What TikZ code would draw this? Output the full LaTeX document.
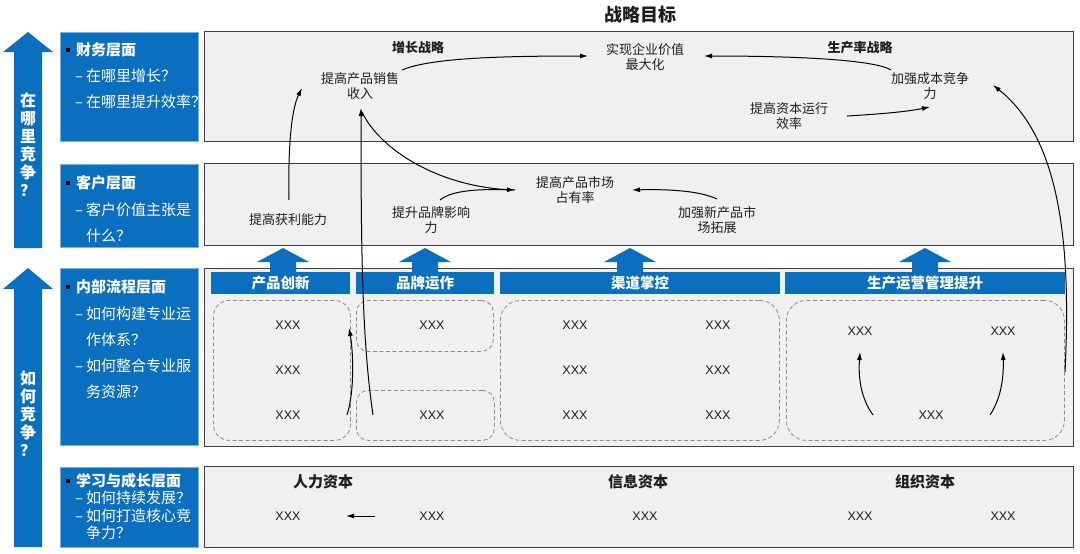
\documentclass[tikz,border=0pt]{standalone}
\usepackage{fontspec}
\newfontfamily\cjk{Noto Sans CJK SC}
\newfontfamily\lat{Liberation Sans}
\usetikzlibrary{arrows.meta}
\definecolor{bblue}{HTML}{0A6FBE}
\definecolor{pgrey}{HTML}{F0F0F0}
\definecolor{tblack}{HTML}{1E1E1E}
\begin{document}
\begin{tikzpicture}[x=1pt,y=-1pt,font=\cjk,
  lbox/.style={fill=bblue,draw=bblue!55!white,line width=0.6pt,anchor=north west,inner sep=0},
  gbox/.style={fill=pgrey,draw=black!75,line width=1pt,anchor=north west,inner sep=0},
  hbar/.style={fill=bblue,text=white,font=\cjk\bfseries\fontsize{14.5}{16}\selectfont,inner sep=0,minimum height=22pt,anchor=north west},
  dbox/.style={draw=black!45,dashed,dash pattern=on 4pt off 2.5pt,rounded corners=16pt,line width=0.8pt,anchor=north west,inner sep=0},
  txt/.style={font=\cjk\fontsize{13}{15.5}\selectfont,align=center,text=tblack,inner sep=0},
  btxt/.style={font=\cjk\bfseries\fontsize{13}{15}\selectfont,text=tblack,inner sep=0},
  b2txt/.style={font=\cjk\bfseries\fontsize{15}{17}\selectfont,text=tblack,inner sep=0},
  xtxt/.style={font=\lat\fontsize{12.5}{15}\selectfont,text=tblack,inner sep=0},
  ltxt/.style={text=white,font=\cjk\fontsize{15}{17}\selectfont,anchor=west,inner sep=0},
  vtxt/.style={text=white,font=\cjk\bfseries\fontsize{16}{18}\selectfont,align=center,inner sep=0},
  arr/.style={-{Latex[length=8pt,width=5pt]},line width=1pt,black},
  bigarrow/.style={fill=bblue}
]
\useasboundingbox (0,0) rectangle (1080,554);
\newcommand{\bul}{\makebox[10pt][l]{\textcolor{black}{\rule[3.5pt]{4pt}{4pt}}}}
\newcommand{\dsh}{\makebox[11pt][l]{–}}

% title
\node[font=\cjk\bfseries\fontsize{18}{20}\selectfont,text=tblack] (title) at (640,15) {战略目标};

% big left arrows
\fill[bigarrow] (28,32) -- (53,52) -- (42,52) -- (42,248) -- (14,248) -- (14,52) -- (3,52) -- cycle;
\node[vtxt] (q1) at (28,145) {在\\哪\\里\\竞\\争\\？};
\fill[bigarrow] (28,268) -- (53,289) -- (42,289) -- (42,547) -- (14,547) -- (14,289) -- (3,289) -- cycle;
\node[vtxt] (q2) at (28,414) {如\\何\\竞\\争\\？};

% left blue boxes
\node[lbox,minimum width=138pt,minimum height=109pt] (l1) at (60,32) {};
\node[lbox,minimum width=138pt,minimum height=83pt] (l2) at (60,164) {};
\node[lbox,minimum width=138pt,minimum height=177pt] (l3) at (60,268) {};
\node[lbox,minimum width=138pt,minimum height=80pt] (l4) at (60,467) {};

\node[ltxt] (l1a) at (66,50) {\bul\textbf{财务层面}};
\node[ltxt] (l1b) at (75,76) {\dsh 在哪里增长？};
\node[ltxt] (l1c) at (75,102) {\dsh 在哪里提升效率？};
\node[ltxt] (l2a) at (66,183) {\bul\textbf{客户层面}};
\node[ltxt] (l2b) at (75,210) {\dsh 客户价值主张是};
\node[ltxt] (l2c) at (86,236) {什么？};
\node[ltxt] (l3a) at (66,287) {\bul\textbf{内部流程层面}};
\node[ltxt] (l3b) at (75,314) {\dsh 如何构建专业运};
\node[ltxt] (l3c) at (86,340) {作体系？};
\node[ltxt] (l3d) at (75,366) {\dsh 如何整合专业服};
\node[ltxt] (l3e) at (86,392) {务资源？};
\node[ltxt] (l4a) at (66,481) {\bul\textbf{学习与成长层面}};
\node[ltxt] (l4b) at (75,498) {\dsh 如何持续发展？};
\node[ltxt] (l4c) at (75,516) {\dsh 如何打造核心竞};
\node[ltxt] (l4d) at (86,533) {争力？};

% grey boxes
\node[gbox,minimum width=869pt,minimum height=110pt] (g1) at (204,31) {};
\node[gbox,minimum width=869pt,minimum height=82pt] (g2) at (204,163) {};
\node[gbox,minimum width=869pt,minimum height=178pt] (g3) at (204,268) {};
\node[gbox,minimum width=869pt,minimum height=81pt] (g4) at (204,466) {};

% block arrows between customer and internal
\foreach \cx in {283,425,630,925}{
  \fill[bigarrow] (\cx,248) -- (\cx+26,262) -- (\cx+13,262) -- (\cx+13,272) -- (\cx-13,272) -- (\cx-13,262) -- (\cx-26,262) -- cycle;
}

% header bars
\node[hbar,minimum width=139pt] (h1) at (211,272) {产品创新};
\node[hbar,minimum width=138pt] (h2) at (356,272) {品牌运作};
\node[hbar,minimum width=280pt] (h3) at (500,272) {渠道掌控};
\node[hbar,minimum width=280pt] (h4) at (785,272) {生产运营管理提升};

% dashed groups
\node[dbox,minimum width=137pt,minimum height=140pt] (d1) at (213,300) {};
\node[dbox,minimum width=137pt,minimum height=51pt,rounded corners=12pt] (d2) at (356,300) {};
\node[dbox,minimum width=138pt,minimum height=50pt,rounded corners=12pt] (d3) at (356,390) {};
\node[dbox,minimum width=279pt,minimum height=140pt,rounded corners=20pt] (d4) at (500,300) {};
\node[dbox,minimum width=278pt,minimum height=140pt,rounded corners=20pt] (d5) at (786,300) {};

% financial texts
\node[btxt] (gs) at (418,48) {增长战略};
\node[btxt] (ps) at (860,48) {生产率战略};
\node[txt] (value) at (645,57) {实现企业价值\\最大化};
\node[txt] (sales) at (360,86) {提高产品销售\\收入};
\node[txt] (cost) at (930,86) {加强成本竞争\\力};
\node[txt] (capital) at (789,116) {提高资本运行\\效率};

% customer texts
\node[txt] (profit) at (288,220) {提高获利能力};
\node[txt] (brand) at (431,220) {提升品牌影响\\力};
\node[txt] (market) at (575,190) {提高产品市场\\占有率};
\node[txt] (newm) at (717,220) {加强新产品市\\场拓展};

% internal XXX
\node[xtxt] (i1) at (288,325) {XXX};
\node[xtxt] (i2) at (288,370) {XXX};
\node[xtxt] (i3) at (288,415) {XXX};
\node[xtxt] (b1) at (432,325) {XXX};
\node[xtxt] (b2) at (432,415) {XXX};
\node[xtxt] (c1) at (575,325) {XXX};
\node[xtxt] (c2) at (575,370) {XXX};
\node[xtxt] (c3) at (575,415) {XXX};
\node[xtxt] (c4) at (718,325) {XXX};
\node[xtxt] (c5) at (718,370) {XXX};
\node[xtxt] (c6) at (718,415) {XXX};
\node[xtxt] (p1) at (860,331) {XXX};
\node[xtxt] (p2) at (1003,331) {XXX};
\node[xtxt] (p3) at (931,415) {XXX};

% learning
\node[b2txt] (hr) at (323,482) {人力资本};
\node[b2txt] (ic) at (638,482) {信息资本};
\node[b2txt] (oc) at (925,482) {组织资本};
\node[xtxt] (x1) at (288,516) {XXX};
\node[xtxt] (x2) at (432,516) {XXX};
\node[xtxt] (x3) at (645,516) {XXX};
\node[xtxt] (x4) at (860,516) {XXX};
\node[xtxt] (x5) at (1003,516) {XXX};

% connector end coordinates
\coordinate (salesR) at (402,70);
\coordinate (valueL) at (588,56);
\coordinate (costL) at (891,70);
\coordinate (valueR) at (704,56);
\coordinate (capR) at (847,116);
\coordinate (costB) at (930,107);
\coordinate (costR) at (993,85);
\coordinate (prodR) at (1065,372);
\coordinate (profitT) at (289,200);
\coordinate (salesBL) at (302,88);
\coordinate (brandIn) at (373,415);
\coordinate (salesB) at (361,108);
\coordinate (salesB2) at (362,112);
\coordinate (marketL) at (515,190);
\coordinate (brandT) at (440,200);
\coordinate (newmT) at (717,199);
\coordinate (marketR) at (632,190);
\coordinate (innoB) at (347,415);
\coordinate (innoT) at (349,328);
\coordinate (p3L) at (873,415);
\coordinate (p1B) at (860,352);
\coordinate (p3R) at (990,415);
\coordinate (p2B) at (1003,352);
\coordinate (x2L) at (375,516);
\coordinate (x1R) at (346,516);

% connectors
\draw[arr] (salesR) .. controls (430,58) and (500,56) .. (valueL);
\draw[arr] (costL) .. controls (875,60) and (800,56) .. (valueR);
\draw[arr] (capR) .. controls (880,114) and (905,112) .. (costB);
\draw[arr] (prodR) .. controls (1071,250) and (1062,140) .. (costR);
\draw[arr] (profitT) .. controls (288,150) and (291,110) .. (salesBL);
\draw[arr] (brandIn) .. controls (362,340) and (361,250) .. (salesB);
\draw[line width=1pt] (salesB2) .. controls (380,150) and (440,188) .. (marketL);
\draw[arr] (brandT) .. controls (452,190) and (480,189) .. (marketL);
\draw[arr] (newmT) .. controls (700,191) and (670,189) .. (marketR);
\draw[arr] (innoB) .. controls (355,390) and (353,350) .. (innoT);
\draw[arr] (p3L) .. controls (862,400) and (858,380) .. (p1B);
\draw[arr] (p3R) .. controls (1000,400) and (1004,380) .. (p2B);
\draw[arr] (x2L) -- (x1R);
\end{tikzpicture}
\end{document}
